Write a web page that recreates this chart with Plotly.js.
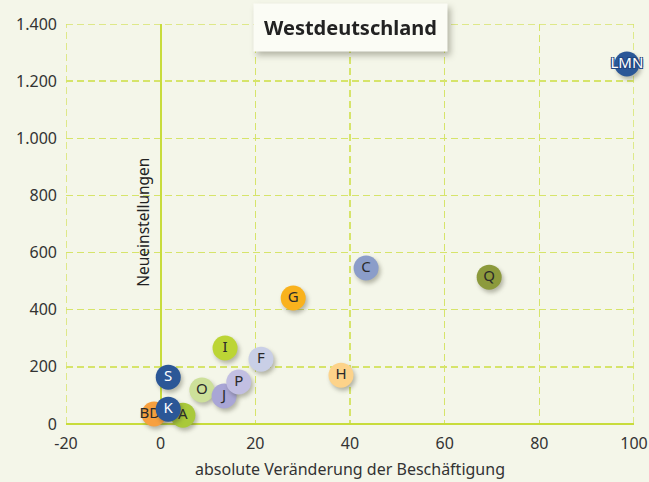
<!DOCTYPE html>
<html><head><meta charset="utf-8">
<script src="https://cdn.plot.ly/plotly-3.0.1.min.js"></script>
<style>
html,body{margin:0;padding:0;background:#f4f6e9;}
#chart{width:649px;height:482px;}
.scatterlayer .points path{filter:drop-shadow(2px 3px 2px rgba(60,60,40,0.35));}
.annotation[data-index="0"] .annotation-text-g{filter:drop-shadow(3px 4px 3px rgba(60,60,40,0.35));}
</style></head>
<body><div id="chart"></div>
<script>
const labels = ['LMN','C','Q','G','H','I','F','S','O','J','P','BDE','A','K'];
const xVals  = [98.5,43.4,69.4,28.0,38.1,13.6,21.2,1.6,8.7,13.4,16.5,-1.4,4.7,1.6];
const yVals  = [1260,546,514,441,171,266,227,164,119,98,147,35,31,52];
const colors = ['#2b5797','#8b9dc9','#8c9a3c','#f9b21d','#fdd38a','#bcd535','#c9cfe6','#2b5797','#cde09a','#a9a6d6','#c2bfe2','#f7a03f','#a9c93a','#2b5797'];
const textColors = ['#ffffff','#2a2a2a','#2a2a2a','#2a2a2a','#2a2a2a','#2a2a2a','#2a2a2a','#ffffff','#2a2a2a','#2a2a2a','#2a2a2a','#2a2a2a','#2a2a2a','#ffffff'];
const xTicks = [-20,0,20,40,60,80,100];
const xTickText = ['-20','0','20','40','60','80','100'];
const yTicks = [0,200,400,600,800,1000,1200,1400];
const xRange = [-20,100];
const yRange = [0,1400];

const font = 'Noto Sans, Open Sans, sans-serif';
const outline = '1px 1px 0 #1f4580, -1px -1px 0 #1f4580, 1px -1px 0 #1f4580, -1px 1px 0 #1f4580';
const traces = labels.map((lab,i)=>({
  type:'scatter', mode:'markers+text',
  x:[xVals[i]], y:[yVals[i]], text:[lab],
  textposition:'middle center',
  textfont:{family:font,size:15,color:textColors[i],shadow: lab==='LMN'?outline:'none'},
  marker:{size:25,color:colors[i],line:{width:0}},
  showlegend:false, hoverinfo:'skip', cliponaxis:false
}));

const grid = '#d6e46a';
const dash = '7px,4px';
const edgeLine = {color:grid,width:1.5,dash:dash};
const layout = {
  width:649,height:482,
  paper_bgcolor:'#f4f6e9',plot_bgcolor:'#f4f6e9',
  margin:{l:66,r:15,t:24,b:58},
  separators:',.',
  font:{family:font,color:'#333',size:16},
  xaxis:{range:xRange,tickvals:xTicks,ticktext:xTickText,showgrid:true,gridcolor:grid,griddash:dash,gridwidth:1.5,
    zeroline:true,zerolinecolor:'#c8dc3c',zerolinewidth:2,showline:false,ticks:'',ticklabelstandoff:8,
    tickfont:{size:16,color:'#333'},
    title:{text:'absolute Veränderung der Beschäftigung',font:{size:16,color:'#333'},standoff:10}},
  yaxis:{range:yRange,tickvals:yTicks,tickformat:',d',separatethousands:true,showgrid:true,gridcolor:grid,griddash:dash,gridwidth:1.5,
    zeroline:true,zerolinecolor:'#c8dc3c',zerolinewidth:2,showline:false,ticks:'',ticklabelstandoff:8,
    tickfont:{size:16,color:'#333'}},
  shapes:[
    {type:'line',xref:'x',yref:'y',x0:xRange[0],x1:xRange[0],y0:yRange[0],y1:yRange[1],line:edgeLine,layer:'below'},
    {type:'line',xref:'x',yref:'y',x0:xRange[1],x1:xRange[1],y0:yRange[0],y1:yRange[1],line:edgeLine,layer:'below'},
    {type:'line',xref:'x',yref:'y',x0:xRange[0],x1:xRange[1],y0:yRange[1],y1:yRange[1],line:edgeLine,layer:'below'}
  ],
  annotations:[
    {xref:'x',yref:'paper',x:40,y:1,yshift:-3,xanchor:'center',yanchor:'middle',
     text:'<b>Westdeutschland</b>',showarrow:false,font:{size:20,color:'#222',family:font},
     bgcolor:'#fbfcf5',borderpad:10,bordercolor:'rgba(0,0,0,0)'},
    {xref:'x',yref:'y',x:-3.9,y:705,xanchor:'center',yanchor:'middle',textangle:-90,
     text:'Neueinstellungen',showarrow:false,font:{size:15.5,color:'#222',family:font}}
  ]
};
Plotly.newPlot('chart',traces,layout,{displayModeBar:false,staticPlot:true});
</script></body></html>
